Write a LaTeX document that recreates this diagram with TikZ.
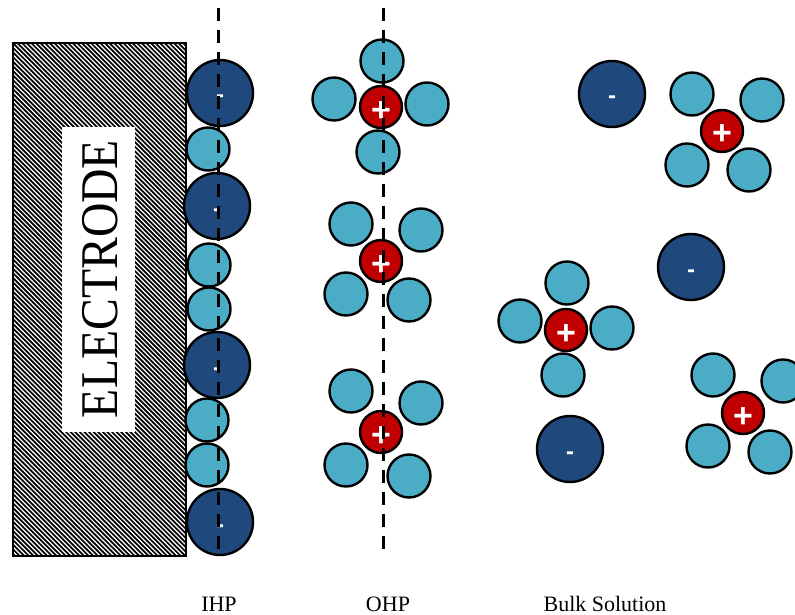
\documentclass[tikz,border=0pt]{standalone}
\usepackage{fontspec}
\setmainfont{Liberation Serif}
\newfontfamily\signfont{Liberation Sans}
\definecolor{anionblue}{HTML}{1F497D}
\definecolor{waterblue}{HTML}{4BACC6}
\definecolor{cationred}{HTML}{C00000}
% charge signs set on a zero-height box so that the glyph itself sits at the centre
\newcommand{\anionsign}{\raisebox{-10pt}[0pt][0pt]{-}}
\newcommand{\cationsign}{\raisebox{-14pt}[0pt][0pt]{+}}
\begin{document}
\begin{tikzpicture}[x=1pt,y=-1pt,
  ion/.style={circle, draw=black, line width=2.4pt, inner sep=0pt, text=white},
  anion/.style={ion, fill=anionblue, minimum size=66pt,
    font=\signfont\bfseries\fontsize{24}{24}\selectfont},
  water/.style={ion, fill=waterblue, minimum size=43pt},
  cation/.style={ion, fill=cationred, minimum size=42pt,
    font=\signfont\bfseries\fontsize{34}{34}\selectfont},
  plane/.style={line width=3pt, dash pattern=on 13pt off 9pt},
  label/.style={font=\fontsize{22}{22}\selectfont, anchor=base}]
\useasboundingbox (0,0) rectangle (795,615);

% electrode: hatched block with a white label window
\begin{scope}
  \clip (13,43) rectangle (186,556);
  \foreach \i in {-520,-515.4,...,180}
    \draw[line width=1.7pt] (13+\i,43) -- (526+\i,556);
\end{scope}
\fill[white] (62,127) rectangle (135,432);
\draw[line width=2.6pt] (13,43) rectangle (186,556);
\node[rotate=90, font=\fontsize{53}{53}\selectfont] (electrode) at (100,279)
  {\scalebox{0.9}[1]{ELECTRODE}};

% inner Helmholtz plane: adsorbed anions and water
\node[anion] (ia1) at (220,93) {\anionsign};
\node[water] (iw1) at (208,149) {};
\node[anion] (ia2) at (217,206) {\anionsign};
\node[water] (iw2) at (209,265) {};
\node[water] (iw3) at (209,309) {};
\node[anion] (ia3) at (217,365) {\anionsign};
\node[water] (iw4) at (207,420) {};
\node[water] (iw5) at (207,465) {};
\node[anion] (ia4) at (220,522) {\anionsign};

% outer Helmholtz plane: solvated cations
\node[cation] (oc1) at (381,107) {\cationsign};
\node[water] (o1t) at (382,61) {};
\node[water] (o1l) at (334,99) {};
\node[water] (o1r) at (427,104) {};
\node[water] (o1b) at (378,152) {};

\node[cation] (oc2) at (381,261) {\cationsign};
\node[water] (o2a) at (351,224) {};
\node[water] (o2b) at (421,230) {};
\node[water] (o2c) at (346,294) {};
\node[water] (o2d) at (409,300) {};

\node[cation] (oc3) at (381,432) {\cationsign};
\node[water] (o3a) at (351,391) {};
\node[water] (o3b) at (421,403) {};
\node[water] (o3c) at (346,465) {};
\node[water] (o3d) at (409,476) {};

% bulk solution
\node[anion] (ba1) at (612,94) {\anionsign};
\node[anion] (ba2) at (691,267) {\anionsign};
\node[anion] (ba3) at (570,449) {\anionsign};

\node[cation] (bc1) at (722,131) {\cationsign};
\node[water] (b1a) at (692,94) {};
\node[water] (b1b) at (762,100) {};
\node[water] (b1c) at (687,165) {};
\node[water] (b1d) at (749,170) {};

\node[cation] (bc2) at (566,330) {\cationsign};
\node[water] (b2t) at (567,283) {};
\node[water] (b2l) at (520,321) {};
\node[water] (b2r) at (612,328) {};
\node[water] (b2b) at (563,375) {};

\node[cation] (bc3) at (743,413) {\cationsign};
\node[water] (b3a) at (713,375) {};
\node[water] (b3b) at (783,381) {};
\node[water] (b3c) at (708,446) {};
\node[water] (b3d) at (770,452) {};

% Helmholtz planes
\coordinate (ihptop) at (218,8);
\coordinate (ihpbot) at (218,556);
\coordinate (ohptop) at (383,8);
\coordinate (ohpbot) at (383,556);
\draw[plane] (ihptop) -- (ihpbot);
\draw[plane] (ohptop) -- (ohpbot);

% captions
\node[label] (ihp) at (219,611) {IHP};
\node[label] (ohp) at (388,611) {OHP};
\node[label] (bulk) at (605,611) {Bulk Solution};
\end{tikzpicture}
\end{document}
